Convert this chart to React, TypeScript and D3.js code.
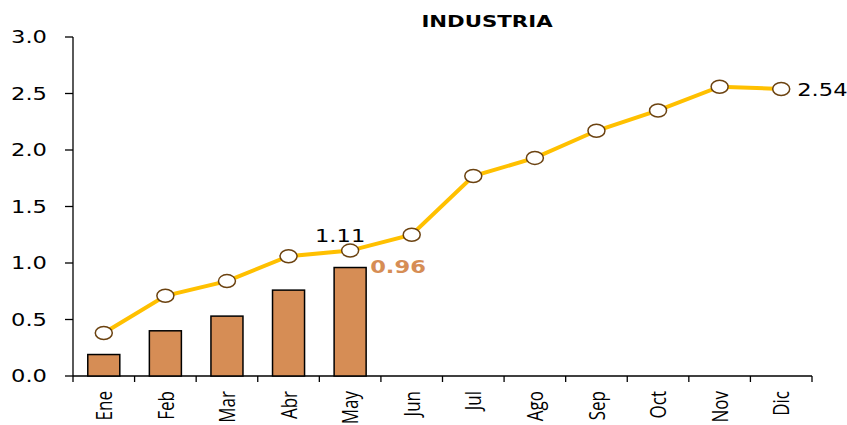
import React from "react";
import * as d3 from "d3";

const months = ["Ene", "Feb", "Mar", "Abr", "May", "Jun", "Jul", "Ago", "Sep", "Oct", "Nov", "Dic"];
const barValues = [0.19, 0.4, 0.53, 0.76, 0.96];
const lineValues = [0.38, 0.71, 0.84, 1.06, 1.11, 1.25, 1.77, 1.93, 2.17, 2.35, 2.56, 2.54];
const yTicks = [0, 0.5, 1, 1.5, 2, 2.5, 3];

// the original picture is stretched sideways, so text is widened the same way
const SX = 1.33;

export default function App() {
  const width = 847;
  const height = 425;
  const margin = { top: 37, right: 35, bottom: 49, left: 73 };

  const x = d3
    .scaleBand()
    .domain(months)
    .range([margin.left, width - margin.right])
    .paddingInner(0.48)
    .paddingOuter(0.24);
  const band = d3.scaleBand().domain(months).range([margin.left, width - margin.right]);
  const y = d3.scaleLinear().domain([0, 3]).range([height - margin.bottom, margin.top]);

  const cx = (i) => band(months[i])! + band.bandwidth() / 2;
  const line = d3
    .line<number>()
    .x((d, i) => cx(i))
    .y((d) => y(d));

  const y0 = y(0);
  const font = "DejaVu Sans";

  return (
    <svg width={width} height={height} style={{ position: "absolute", left: 0, top: 0 }}>
      <rect width={width} height={height} fill="#fff" />
      <text transform={`translate(487,27) scale(${SX},1)`} textAnchor="middle" fontFamily={font} fontWeight="bold" fontSize={16}>
        INDUSTRIA
      </text>

      {/* y axis */}
      <line x1={margin.left} x2={margin.left} y1={y(3)} y2={y0 + 6} stroke="#000" strokeWidth={1.3} />
      {yTicks.map((t) => (
        <g key={t}>
          <line x1={margin.left - 8} x2={margin.left} y1={y(t)} y2={y(t)} stroke="#000" strokeWidth={1.3} />
          <text transform={`translate(47,${y(t)}) scale(${SX},1)`} dy="0.36em" textAnchor="end" fontFamily={font} fontSize={17}>
            {t.toFixed(1)}
          </text>
        </g>
      ))}

      {/* x axis */}
      <line x1={margin.left} x2={width - margin.right} y1={y0} y2={y0} stroke="#000" strokeWidth={1.3} />
      {months.map((m) => (
        <line key={m} x1={band(m)! + band.bandwidth()} x2={band(m)! + band.bandwidth()} y1={y0} y2={y0 + 6} stroke="#000" strokeWidth={1.3} />
      ))}
      {months.map((m, i) => (
        <text
          key={m}
          transform={`translate(${cx(i)},${y0 + 15}) rotate(-90) scale(1,${SX})`}
          textAnchor="end"
          dy="0.36em"
          fontFamily="Open Sans"
          fontSize={17}
        >
          {m}
        </text>
      ))}

      {/* bars */}
      {barValues.map((v, i) => (
        <rect
          key={i}
          x={x(months[i])}
          y={y(v)}
          width={x.bandwidth()}
          height={y0 - y(v)}
          fill="#D68D55"
          stroke="#000"
          strokeWidth={1.5}
        />
      ))}

      {/* line */}
      <path d={line(lineValues)!} fill="none" stroke="#FFC000" strokeWidth={4} />
      {lineValues.map((v, i) => (
        <ellipse key={i} cx={cx(i)} cy={y(v)} rx={8.5} ry={6.5} fill="#fff" stroke="#6B4210" strokeWidth={1.5} />
      ))}

      {/* labels */}
      <text transform={`translate(${cx(4) - 10},${y(lineValues[4]) - 9}) scale(${SX},1)`} textAnchor="middle" fontFamily={font} fontSize={17}>
        1.11
      </text>
      <text transform={`translate(${cx(4) + 20},${y(barValues[4]) + 5}) scale(${SX},1)`} fontFamily={font} fontWeight="bold" fontSize={17} fill="#D68D55">
        0.96
      </text>
      <text transform={`translate(${cx(11) + 16},${y(lineValues[11]) + 7}) scale(${SX},1)`} fontFamily={font} fontSize={17}>
        2.54
      </text>
    </svg>
  );
}
